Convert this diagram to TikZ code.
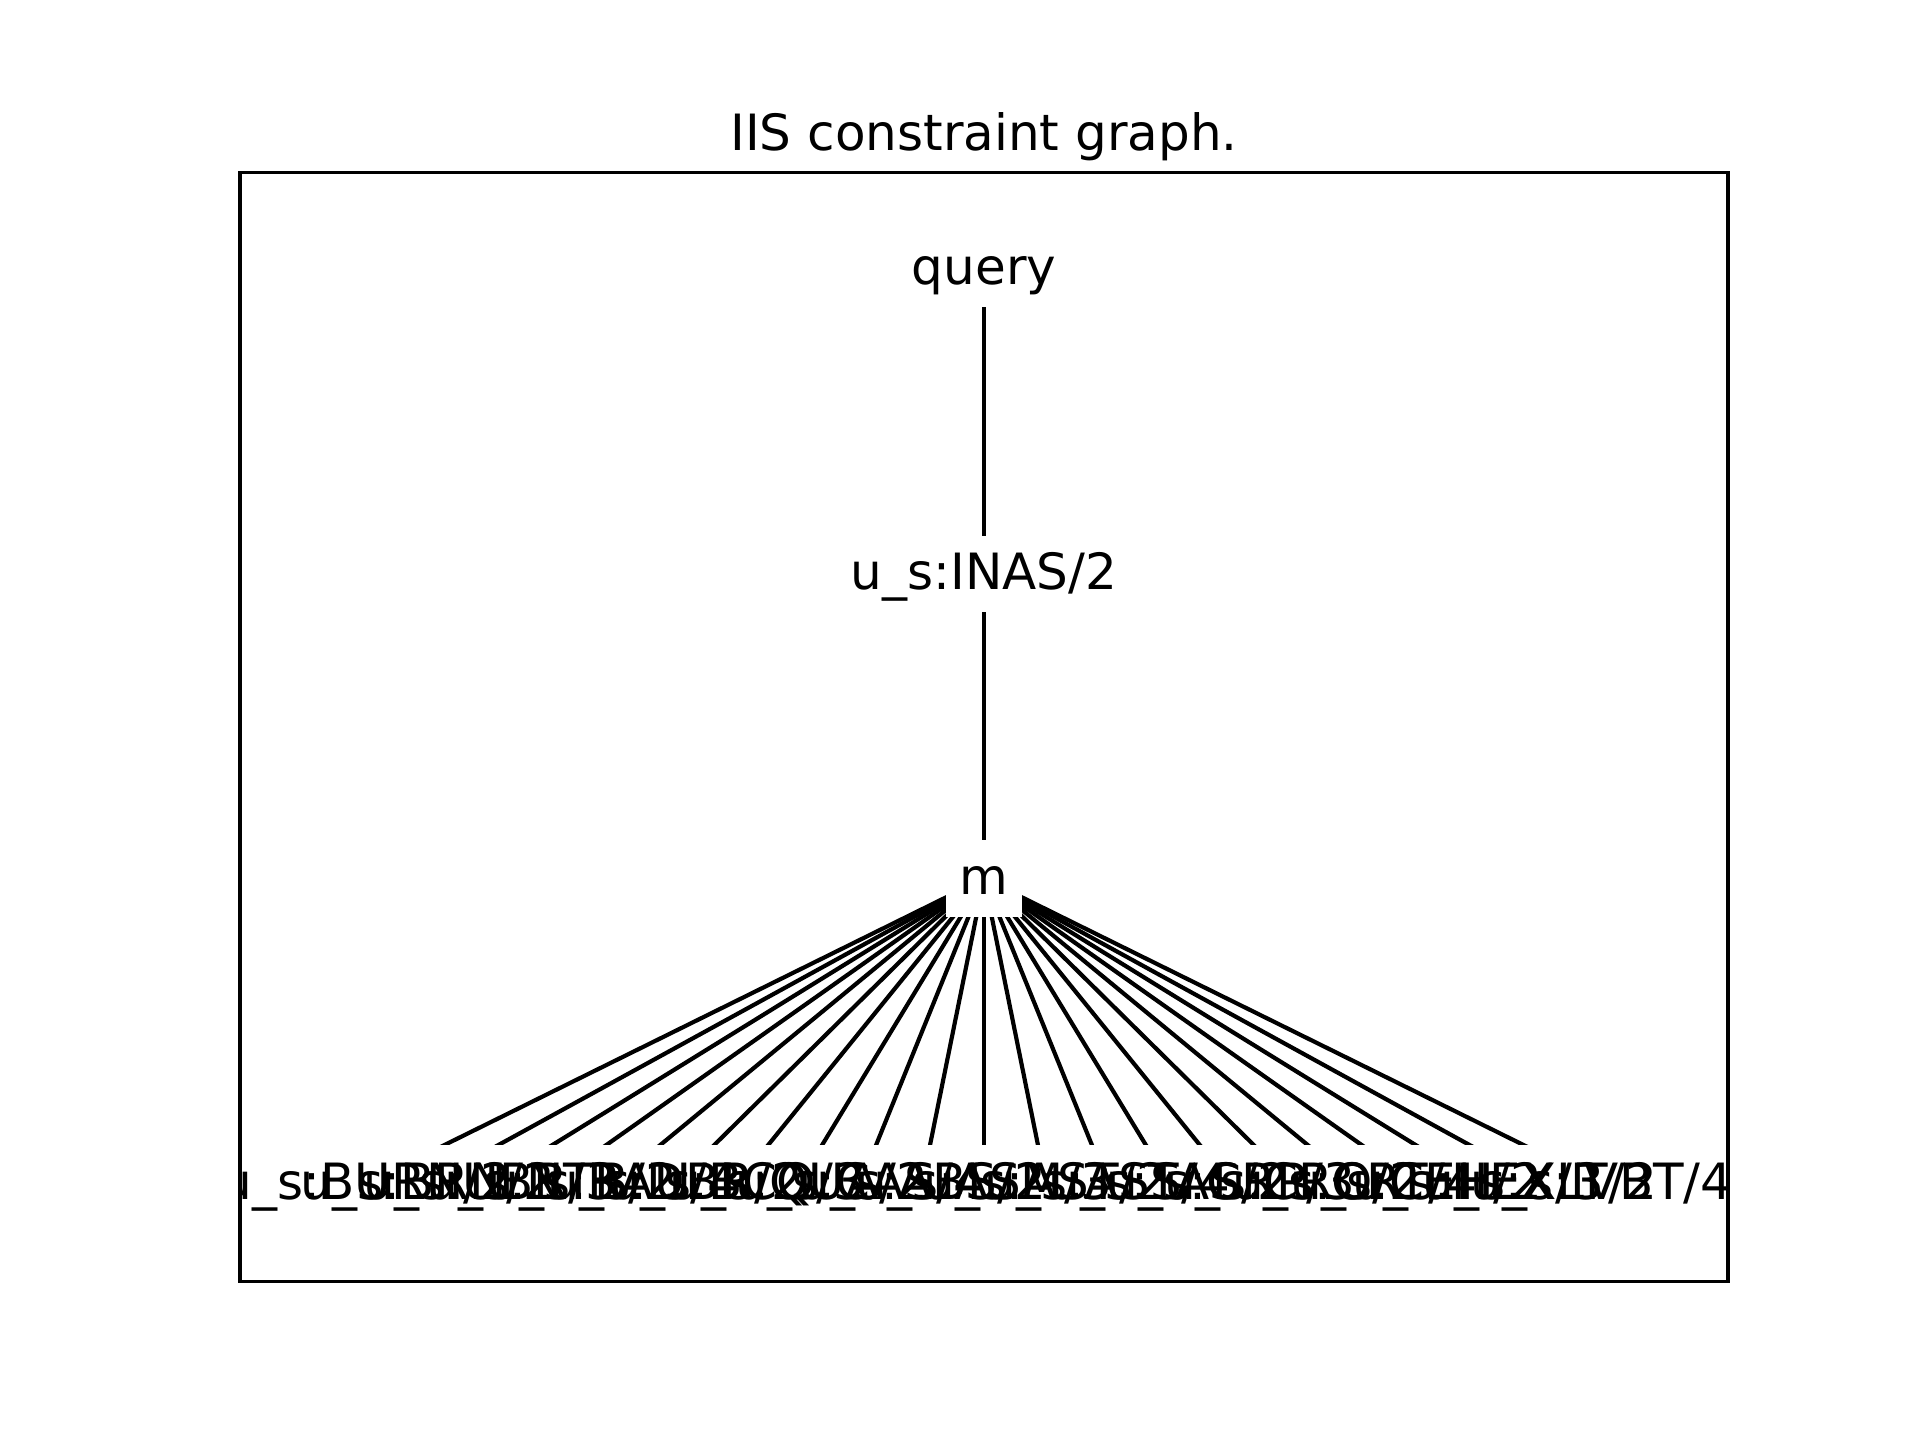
\documentclass[tikz,border=0pt]{standalone}
\usepackage{fontspec}
\setmainfont{DejaVu Sans}
\pgfdeclarelayer{background}
\pgfsetlayers{background,main}
\tikzset{
  sqnode/.style={rectangle, draw=none, fill=white, minimum size=18.3pt, inner sep=0pt},
  lbl/.style={inner sep=0pt, text height=9.12pt, text depth=2.83pt, yshift=-0.6pt, font=\fontsize{12}{14.4}\selectfont},
  edge/.style={line width=1pt, black},
  frame/.style={line width=0.8pt, black}
}
\begin{document}
\begin{tikzpicture}
\useasboundingbox (0,0) rectangle (460.8pt,345.6pt);
\node[lbl, anchor=base] (title) at (236.16pt,310.13pt) {IIS constraint graph.};
\begin{scope}
\clip (57.6pt,38.02pt) rectangle (414.72pt,304.13pt);
\node[sqnode] (q) at (236.16pt,281.09pt) {};
\node[sqnode] (i) at (236.16pt,207.91pt) {};
\node[sqnode] (m) at (236.16pt,134.74pt) {};
\foreach \k in {1,...,21}{
  \node[sqnode] (l\k) at ({236.16pt+(\k-11)*14.82pt},61.56pt) {};
}
\node[lbl] (qt) at (q) {query};
\node[lbl] (it) at (i) {u\_s:INAS/2};
\node[lbl] (mt) at (m) {m};
\foreach \t [count=\k] in {u\_s:BURN/2,u\_s:BRN/2,u\_s:UBR/3,u\_s:NTB/2,u\_s:RAU/4,u\_s:DBR/2,u\_s:BCQ/3,u\_s:QUA/2,u\_s:CAS/4,u\_s:ABS/2,u\_s:ASM/3,u\_s:AST/2,u\_s:ASS/4,u\_s:TAS/2,u\_s:CRP/3,u\_s:CRO/2,u\_s:CRT/4,u\_s:CEH/2,u\_s:HEX/3,u\_s:XLT/2,u\_s:IVBT/4}{
  \node[lbl] (lt\k) at (l\k) {\t};
}
\begin{pgfonlayer}{background}
\draw[edge] (q.center) -- (i.center);
\draw[edge] (i.center) -- (m.center);
\foreach \k in {1,...,21}{
  \draw[edge] (m.center) -- (l\k.center);
}
\end{pgfonlayer}
\end{scope}
\draw[frame] (57.6pt,38.02pt) rectangle (414.72pt,304.13pt);
\end{tikzpicture}
\end{document}
